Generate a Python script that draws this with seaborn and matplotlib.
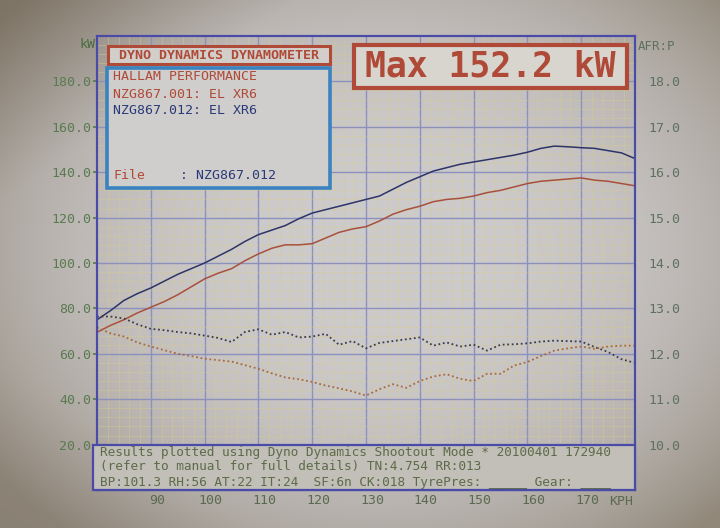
import numpy as np
import pandas as pd
import matplotlib
matplotlib.use("Agg")
import matplotlib.pyplot as plt
import seaborn as sns
from matplotlib.patches import Rectangle
from matplotlib.ticker import MultipleLocator
from matplotlib.transforms import ScaledTranslation

# ---------------- data ----------------
speed = [80, 82.5, 85, 87.5, 90, 92.5, 95, 97.5, 100, 102.5, 105, 107.5, 110,
         112.5, 115, 117.5, 120, 122.5, 125, 127.5, 130, 132.5, 135, 137.5,
         140, 142.5, 145, 147.5, 150, 152.5, 155, 157.5, 160, 162.5, 165,
         167.5, 170, 172.5, 175, 177.5, 180]

kw_012 = [75, 79, 83.5, 86.5, 89, 92, 95, 97.5, 100, 103, 106, 109.5, 112.5,
          114.5, 116.5, 119.5, 122, 123.5, 125, 126.5, 128, 129.5, 132.5, 135.5,
          138, 140.5, 142, 143.5, 144.5, 145.5, 146.5, 147.5, 148.8, 150.5, 151.5,
          151.2, 150.8, 150.5, 149.5, 148.5, 146]

kw_001 = [69.5, 72.5, 75, 78, 80.5, 83, 86, 89.5, 93, 95.5, 97.5, 101, 104,
          106.5, 108, 108, 108.5, 111, 113.5, 115, 116, 118.5, 121.5, 123.5,
          125, 127, 128, 128.5, 129.5, 131, 132, 133.5, 135, 136, 136.5,
          137, 137.5, 136.5, 136, 135, 134]

afr_012 = [12.82, 12.82, 12.78, 12.65, 12.55, 12.52, 12.48, 12.45, 12.4, 12.35,
           12.26, 12.48, 12.54, 12.42, 12.48, 12.36, 12.38, 12.44, 12.2, 12.28,
           12.12, 12.24, 12.28, 12.32, 12.36, 12.18, 12.25, 12.16, 12.2, 12.07,
           12.2, 12.21, 12.23, 12.27, 12.29, 12.28, 12.27, 12.15, 12.04, 11.88, 11.8]

afr_001 = [12.58, 12.45, 12.38, 12.25, 12.16, 12.08, 12.0, 11.95, 11.89, 11.86,
           11.83, 11.75, 11.67, 11.57, 11.48, 11.44, 11.38, 11.3, 11.24, 11.17,
           11.08, 11.22, 11.33, 11.25, 11.4, 11.5, 11.55, 11.45, 11.4, 11.56,
           11.56, 11.74, 11.82, 11.95, 12.07, 12.12, 12.16, 12.11, 12.16, 12.18, 12.18]

x_ticks = [90, 100, 110, 120, 130, 140, 150, 160, 170]
kw_ticks = [20, 40, 60, 80, 100, 120, 140, 160, 180]
afr_ticks = [10, 11, 12, 13, 14, 15, 16, 17, 18]

df = pd.DataFrame({"speed": speed, "kw_012": kw_012, "kw_001": kw_001,
                   "afr_012": afr_012, "afr_001": afr_001})

# ---------------- style ----------------
sns.set_theme(style="white")
plt.rcParams["font.family"] = ["DejaVu Sans Mono", "DejaVu Sans"]

fig = plt.figure(figsize=(7.2, 5.28), dpi=100)

# photographic vignette background
H, W = 528, 720
yy, xx = np.mgrid[0:H, 0:W]
t = ((xx - 380) / 480.0) ** 2 + ((yy - 250) / 370.0) ** 2
t = np.clip(t, 0, 1) ** 1.4
center = np.array([206, 203, 204]) / 255.0
edge = np.array([145, 136, 122]) / 255.0
img = center + (edge - center) * t[..., None]
tl = np.clip(1 - (xx / 300.0 + yy / 200.0), 0, 1)[..., None]
img = img * (1 - 0.35 * tl) + np.array([90, 78, 64]) / 255.0 * 0.35 * tl
bl = np.clip(1 - (xx / 260.0 + (H - yy) / 160.0), 0, 1)[..., None]
img = img * (1 - 0.2 * bl) + np.array([110, 100, 96]) / 255.0 * 0.2 * bl
fig.figimage(np.clip(img, 0, 1), xo=0, yo=0, origin="upper", zorder=-10)

ax = fig.add_axes([97 / 720, 38 / 528, 538 / 720, 454 / 528])
ax.set_facecolor("none")

ax.set_xlim(80, 180)
ax.set_ylim(0, 200)
ax.set_yticks(kw_ticks)
ax.set_yticklabels([f"{v:.1f}" for v in kw_ticks])
ax.set_xticks(x_ticks)
ax.set_xticklabels([str(v) for v in x_ticks])
ax.xaxis.set_minor_locator(MultipleLocator(2))
ax.yaxis.set_minor_locator(MultipleLocator(4))
ax.grid(which="minor", color="#d6cc88", lw=0.5, alpha=0.55)
ax.grid(which="major", color="#8c90bc", lw=1.0)
ax.set_axisbelow(True)

ax.tick_params(axis="y", which="major", colors="#5a7a50", labelsize=9.5,
               length=3, pad=1)
ax.tick_params(axis="x", which="major", colors="#5a6a50", labelsize=9.5,
               length=0, pad=3)
ax.tick_params(which="minor", length=0)
for lab in ax.get_xticklabels():
    lab.set_transform(lab.get_transform() +
                      ScaledTranslation(6 / 100, 0, fig.dpi_scale_trans))
for s in ax.spines.values():
    s.set_color("#4a4aa8")
    s.set_linewidth(1.5)

sns.lineplot(data=df, x="speed", y="kw_012", ax=ax, color="#2c3468", lw=1.1)
sns.lineplot(data=df, x="speed", y="kw_001", ax=ax, color="#a8503c", lw=1.1)
ax.set_xlabel("")
ax.set_ylabel("")

ax2 = ax.twinx()
ax2.set_ylim(9, 19)
sns.lineplot(data=df, x="speed", y="afr_012", ax=ax2, color="#3c3c4c",
             lw=1.3, linestyle=(0, (1, 1.5)))
sns.lineplot(data=df, x="speed", y="afr_001", ax=ax2, color="#a86a3c",
             lw=1.3, linestyle=(0, (1, 1.5)))
ax2.set_yticks(afr_ticks)
ax2.set_yticklabels([f"{v:.1f}" for v in afr_ticks])
ax2.tick_params(axis="y", colors="#607060", labelsize=9.5, length=0, pad=10)
ax2.grid(False)
ax2.set_ylabel("")
ax2.set_xlabel("")
for s in ax2.spines.values():
    s.set_color("#4a4aa8")
    s.set_linewidth(1.5)

T = ax2.transAxes
# axis unit labels
ax2.text(-0.002, 0.982, "kW", transform=T, ha="right", va="center",
         fontsize=9.5, color="#4a6a40")
ax2.text(1.006, 0.976, "AFR:P", transform=T, ha="left", va="center",
         fontsize=9, color="#607060")
ax2.text(0.952, -0.026, "KPH", transform=T, ha="left", va="center",
         fontsize=9.5, color="#5a6a50")

# top-left title box
ax2.add_patch(Rectangle((0.020, 0.938), 0.413, 0.040, transform=T,
                        facecolor="#d2cfcb", edgecolor="#b04a38", lw=2.2,
                        zorder=20, clip_on=False))
ax2.text(0.226, 0.958, "DYNO DYNAMICS DYNAMOMETER", transform=T,
         ha="center", va="center", fontsize=9.6, color="#b04a38",
         fontweight="semibold", zorder=21)

ax2.add_patch(Rectangle((0.019, 0.665), 0.414, 0.265, transform=T,
                        facecolor="#d0cecc", edgecolor="#3a82c0", lw=2.6,
                        zorder=20, clip_on=False))
ax2.text(0.030, 0.910, "HALLAM PERFORMANCE", transform=T, ha="left",
         va="center", fontsize=9.5, color="#b04a38", zorder=21)
ax2.text(0.030, 0.872, "NZG867.001: EL XR6", transform=T, ha="left",
         va="center", fontsize=9.5, color="#b04a38", zorder=21)
ax2.text(0.030, 0.835, "NZG867.012: EL XR6", transform=T, ha="left",
         va="center", fontsize=9.5, color="#2a3a78", zorder=21)
ax2.text(0.030, 0.692, "File", transform=T, ha="left", va="center",
         fontsize=9.5, color="#b04a38", zorder=21)
ax2.text(0.155, 0.692, ": NZG867.012", transform=T, ha="left", va="center",
         fontsize=9.5, color="#2a3a78", zorder=21)

# max power box
ax2.add_patch(Rectangle((0.478, 0.885), 0.507, 0.095, transform=T,
                        facecolor="#d8d4ce", edgecolor="#b04a38", lw=3,
                        zorder=20, clip_on=False))
ax2.text(0.731, 0.932, "Max 152.2 kW", transform=T, ha="center",
         va="center", fontsize=25, color="#b04a38", fontweight="bold",
         zorder=21)

# bottom results box
ax2.add_patch(Rectangle((-0.008, 0.0), 1.008, 0.099, transform=T,
                        facecolor="#c2beb8", edgecolor="#4a4aa8", lw=1.6,
                        zorder=20, clip_on=False))
bottom_lines = [
    "Results plotted using Dyno Dynamics Shootout Mode * 20100401 172940",
    "(refer to manual for full details) TN:4.754 RR:013",
    "BP:101.3 RH:56 AT:22 IT:24  SF:6n CK:018 TyrePres: _____ Gear: ____",
]
for yv, line in zip([0.0815, 0.0507, 0.0176], bottom_lines):
    ax2.text(0.006, yv, line, transform=T, ha="left", va="center",
             fontsize=9.2, color="#5c6c48", zorder=21)

fig.savefig("out.png", dpi=100)
